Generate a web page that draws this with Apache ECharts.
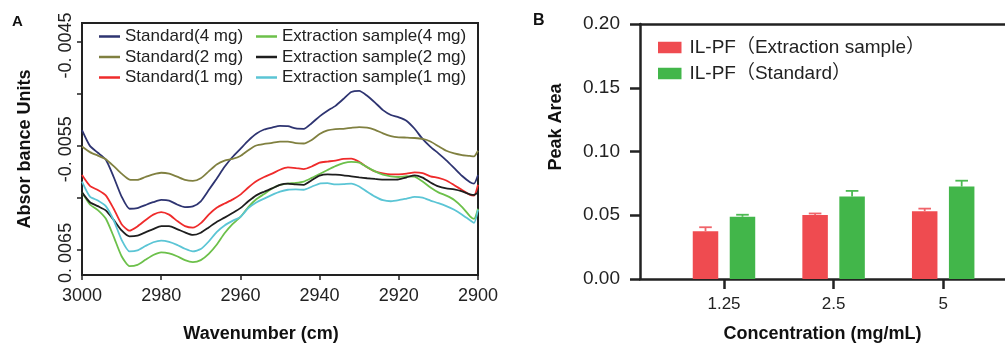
<!DOCTYPE html>
<html>
<head>
<meta charset="utf-8">
<script src="https://cdn.jsdelivr.net/npm/echarts@6/dist/echarts.min.js"></script>
<style>html,body{margin:0;padding:0;background:#fff}#c{width:1005px;height:348px}</style>
</head>
<body>
<div id="c"></div>
<script>
// ---------- Panel A data ----------
const wavenumbers = [3000,2998,2996,2994,2992,2990,2988,2986,2984,2982,2980,
  2978,2976,2974,2972,2970,2968,2966,2964,2962,2960,
  2958,2956,2954,2952,2950,2948,2946,2944,2942,2940,
  2938,2936,2934,2932,2930,2928,2926,2924,2922,2920,
  2918,2916,2914,2912,2910,2908,2906,2904,2902,2901,2900];
const standard4 = [-0.005350,-0.005502,-0.005568,-0.005634,-0.005802,-0.005991,-0.006108,-0.006102,-0.006073,-0.006045,-0.006023,
  -0.006029,-0.006067,-0.006092,-0.006086,-0.006036,-0.005928,-0.005818,-0.005704,-0.005609,-0.005530,
  -0.005451,-0.005385,-0.005344,-0.005325,-0.005309,-0.005312,-0.005334,-0.005337,-0.005283,-0.005217,
  -0.005163,-0.005116,-0.005050,-0.004983,-0.004971,-0.005018,-0.005084,-0.005157,-0.005204,-0.005227,
  -0.005261,-0.005337,-0.005435,-0.005511,-0.005574,-0.005641,-0.005716,-0.005792,-0.005852,-0.005865,-0.005783];
const standard2 = [-0.005508,-0.005562,-0.005596,-0.005631,-0.005697,-0.005770,-0.005827,-0.005830,-0.005802,-0.005776,-0.005761,
  -0.005770,-0.005799,-0.005830,-0.005840,-0.005814,-0.005748,-0.005682,-0.005644,-0.005628,-0.005599,
  -0.005543,-0.005498,-0.005483,-0.005473,-0.005460,-0.005460,-0.005476,-0.005479,-0.005445,-0.005388,
  -0.005353,-0.005340,-0.005337,-0.005328,-0.005321,-0.005325,-0.005347,-0.005381,-0.005407,-0.005419,
  -0.005422,-0.005426,-0.005435,-0.005460,-0.005505,-0.005549,-0.005574,-0.005590,-0.005599,-0.005603,-0.005549];
const standard1 = [-0.005783,-0.005887,-0.005928,-0.005979,-0.006108,-0.006257,-0.006320,-0.006279,-0.006219,-0.006165,-0.006140,
  -0.006165,-0.006225,-0.006276,-0.006291,-0.006247,-0.006165,-0.006099,-0.006058,-0.006020,-0.005972,
  -0.005903,-0.005843,-0.005802,-0.005770,-0.005732,-0.005710,-0.005716,-0.005726,-0.005701,-0.005663,
  -0.005653,-0.005644,-0.005628,-0.005625,-0.005656,-0.005707,-0.005748,-0.005767,-0.005776,-0.005776,
  -0.005770,-0.005757,-0.005764,-0.005795,-0.005811,-0.005836,-0.005881,-0.005928,-0.005975,-0.005982,-0.005877];
const extraction4 = [-0.005950,-0.006067,-0.006121,-0.006203,-0.006377,-0.006566,-0.006661,-0.006649,-0.006601,-0.006554,-0.006528,
  -0.006538,-0.006566,-0.006604,-0.006623,-0.006604,-0.006544,-0.006456,-0.006345,-0.006257,-0.006187,
  -0.006092,-0.006017,-0.005966,-0.005912,-0.005877,-0.005865,-0.005859,-0.005846,-0.005811,-0.005773,
  -0.005735,-0.005697,-0.005669,-0.005656,-0.005663,-0.005707,-0.005748,-0.005780,-0.005795,-0.005802,
  -0.005795,-0.005799,-0.005846,-0.005903,-0.005950,-0.005982,-0.006023,-0.006092,-0.006181,-0.006206,-0.006108];
const extraction2 = [-0.005950,-0.006045,-0.006083,-0.006124,-0.006216,-0.006317,-0.006374,-0.006367,-0.006336,-0.006304,-0.006276,
  -0.006276,-0.006304,-0.006336,-0.006361,-0.006339,-0.006288,-0.006235,-0.006194,-0.006149,-0.006102,
  -0.006036,-0.005979,-0.005944,-0.005912,-0.005877,-0.005865,-0.005874,-0.005877,-0.005833,-0.005789,
  -0.005776,-0.005780,-0.005786,-0.005795,-0.005805,-0.005814,-0.005821,-0.005827,-0.005827,-0.005824,
  -0.005805,-0.005786,-0.005808,-0.005855,-0.005893,-0.005912,-0.005922,-0.005941,-0.005969,-0.005975,-0.005950];
const extraction1 = [-0.005846,-0.005991,-0.006029,-0.006083,-0.006219,-0.006408,-0.006519,-0.006510,-0.006468,-0.006431,-0.006415,
  -0.006427,-0.006456,-0.006494,-0.006519,-0.006497,-0.006424,-0.006333,-0.006269,-0.006225,-0.006187,
  -0.006102,-0.006048,-0.006010,-0.005975,-0.005944,-0.005925,-0.005922,-0.005925,-0.005896,-0.005865,
  -0.005862,-0.005874,-0.005871,-0.005865,-0.005893,-0.005944,-0.005991,-0.006026,-0.006036,-0.006026,
  -0.006010,-0.005994,-0.006001,-0.006029,-0.006054,-0.006083,-0.006118,-0.006165,-0.006219,-0.006244,-0.006118];
const yTickValuesA = [-0.0065,-0.0060,-0.0055,-0.0050,-0.0045];
const yLabelValuesA = [-0.0065,-0.0055,-0.0045];
const yLabelTextsA = ['0. 0065','-0. 0055','-0. 0045'];

// ---------- Panel B data ----------
const concentrations = ['1.25','2.5','5'];
const extractionMean = [0.0375,0.0501,0.0532];
const extractionErr  = [0.0031,0.0013,0.0020];
const standardMean   = [0.0488,0.0648,0.0725];
const standardErr    = [0.0016,0.0043,0.0046];

const FONT = '"Liberation Sans", Arial, "Noto Sans CJK SC", sans-serif';
const INK = '#222';

const lineSeries = [
  ['Standard(4 mg)', standard4, '#2e3471'],
  ['Standard(2 mg)', standard2, '#808040'],
  ['Standard(1 mg)', standard1, '#ef2b2b'],
  ['Extraction sample(4 mg)', extraction4, '#6cc04a'],
  ['Extraction sample(2 mg)', extraction2, '#1e1e1e'],
  ['Extraction sample(1 mg)', extraction1, '#5bc5d5']
].map(([name, vals, color]) => ({
  name, type: 'line', xAxisIndex: 0, yAxisIndex: 0,
  data: wavenumbers.map((w, i) => [w, vals[i]]),
  symbol: 'none', smooth: 0.2,
  lineStyle: { color, width: 1.8 }, itemStyle: { color }
}));

const BAR_W = 25.5, GAP = 0.45;
const OFF = (BAR_W * (1 + GAP)) / 2;
function errSeries(name, mean, err, color, dir) {
  return {
    name, type: 'custom', xAxisIndex: 1, yAxisIndex: 1, z: 3,
    data: mean.map((m, i) => [i, m, err[i]]),
    renderItem: (params, api) => {
      const x = api.value(0), m = api.value(1), e = api.value(2);
      const b = api.coord([x, m]), t = api.coord([x, m + e]);
      const cx = b[0] + dir * OFF;
      return { type: 'group', children: [
        { type: 'line', shape: { x1: cx, y1: b[1], x2: cx, y2: t[1] }, style: { stroke: color, lineWidth: 1.8 } },
        { type: 'line', shape: { x1: cx - 6.3, y1: t[1], x2: cx + 6.3, y2: t[1] }, style: { stroke: color, lineWidth: 1.8 } }
      ]};
    }
  };
}

const B_MIN = -0.7664, B_MAX = 2.564;

const chart = echarts.init(document.getElementById('c'), null, { renderer: 'canvas' });
chart.setOption({
  animation: false,
  backgroundColor: '#fff',
  textStyle: { fontFamily: FONT },
  title: [
    { text: 'A', left: 7, top: 9, textStyle: { fontFamily: FONT, fontSize: 15, fontWeight: 'bold', color: '#111' } },
    { text: 'B', left: 528, top: 8, textStyle: { fontFamily: FONT, fontSize: 16, fontWeight: 'bold', color: '#111' } }
  ],
  legend: [
    { orient: 'vertical', left: 94, top: 23, icon: 'rect', itemWidth: 21, itemHeight: 2.5, itemGap: 3.5,
      data: ['Standard(4 mg)','Standard(2 mg)','Standard(1 mg)'],
      textStyle: { fontFamily: FONT, fontSize: 17, color: INK, lineHeight: 17 } },
    { orient: 'vertical', left: 251, top: 23, icon: 'rect', itemWidth: 21, itemHeight: 2.5, itemGap: 3.5,
      data: ['Extraction sample(4 mg)','Extraction sample(2 mg)','Extraction sample(1 mg)'],
      textStyle: { fontFamily: FONT, fontSize: 17, color: INK, lineHeight: 17 } },
    { orient: 'vertical', left: 653, top: 33, icon: 'rect', itemWidth: 23.5, itemHeight: 11.5, itemGap: 7,
      data: ['IL-PF（Extraction sample）','IL-PF（Standard）'],
      textStyle: { fontFamily: FONT, fontSize: 19, color: INK, lineHeight: 19, padding: [0, 0, 0, 3] } }
  ],
  grid: [
    { left: 82, top: 23, width: 396, height: 256, show: true, borderColor: INK, borderWidth: 2 },
    { left: 640, top: 24, width: 365, height: 259, show: false }
  ],
  xAxis: [
    { type: 'value', gridIndex: 0, min: 2900, max: 3000, interval: 20, inverse: true,
      axisLine: { show: true, onZero: false, lineStyle: { color: INK, width: 2 } },
      axisTick: { show: true, length: 5, lineStyle: { color: INK, width: 1.5 } },
      axisLabel: { fontFamily: FONT, fontSize: 18, color: INK, margin: 12, formatter: v => String(v) },
      splitLine: { show: false },
      name: 'Wavenumber (cm)', nameLocation: 'middle', nameGap: 50,
      nameTextStyle: { fontFamily: FONT, fontSize: 18, fontWeight: 'bold', color: '#111', padding: [0, 38, 0, 0] } },
    { type: 'value', gridIndex: 1, min: B_MIN, max: B_MAX,
      axisLine: { show: true, onZero: false, lineStyle: { color: INK, width: 2.5 } },
      axisTick: { show: true, length: 10, customValues: [0, 1, 2], lineStyle: { color: INK, width: 2.5 } },
      axisLabel: { fontFamily: FONT, fontSize: 17, color: INK, margin: 17, customValues: [0, 1, 2],
        formatter: v => concentrations[Math.round(v)] },
      splitLine: { show: false },
      name: 'Concentration (mg/mL)', nameLocation: 'middle', nameGap: 46,
      nameTextStyle: { fontFamily: FONT, fontSize: 18, fontWeight: 'bold', color: '#111' } },
    { type: 'value', gridIndex: 1, min: B_MIN, max: B_MAX, position: 'top',
      axisLine: { show: true, onZero: false, lineStyle: { color: INK, width: 2.5 } },
      axisTick: { show: false }, axisLabel: { show: false }, splitLine: { show: false } }
  ],
  yAxis: [
    { type: 'value', gridIndex: 0, min: -0.006747, max: -0.004317,
      axisLine: { show: true, onZero: false, lineStyle: { color: INK, width: 2 } },
      axisTick: { show: true, length: 5, customValues: yTickValuesA, lineStyle: { color: INK, width: 1.5 } },
      axisLabel: { fontFamily: FONT, fontSize: 18, color: INK, rotate: 90, margin: 7, customValues: yLabelValuesA,
        padding: [0, 7, 0, 0],
        formatter: v => { const i = yLabelValuesA.findIndex(t => Math.abs(t - v) < 1e-9); return i >= 0 ? yLabelTextsA[i] : ''; } },
      splitLine: { show: false },
      name: 'Absor bance Units', nameLocation: 'middle', nameRotate: 90, nameGap: 48,
      nameTextStyle: { fontFamily: FONT, fontSize: 18, fontWeight: 'bold', color: '#111' } },
    { type: 'value', gridIndex: 1, min: 0, max: 0.2, interval: 0.05,
      axisLine: { show: true, onZero: false, lineStyle: { color: INK, width: 2.5 } },
      axisTick: { show: true, length: 10, lineStyle: { color: INK, width: 2.5 } },
      axisLabel: { fontFamily: FONT, fontSize: 19, color: INK, margin: 20, formatter: v => v.toFixed(2) },
      splitLine: { show: false },
      name: 'Peak Area', nameLocation: 'middle', nameRotate: 90, nameGap: 75,
      nameTextStyle: { fontFamily: FONT, fontSize: 18, fontWeight: 'bold', color: '#111', padding: [0, 0, 0, 49] } }
  ],
  series: [
    ...lineSeries,
    { name: 'IL-PF（Extraction sample）', type: 'bar', xAxisIndex: 1, yAxisIndex: 1,
      data: extractionMean.map((v, i) => [i, v]), barWidth: BAR_W, barGap: '45%',
      itemStyle: { color: '#ef4b50' } },
    { name: 'IL-PF（Standard）', type: 'bar', xAxisIndex: 1, yAxisIndex: 1,
      data: standardMean.map((v, i) => [i, v]), barWidth: BAR_W, barGap: '45%',
      itemStyle: { color: '#42b64a' } },
    errSeries('errExtraction', extractionMean, extractionErr, '#f0646a', -1),
    errSeries('errStandard', standardMean, standardErr, '#4cba52', 1)
  ]
});
</script>
</body>
</html>
